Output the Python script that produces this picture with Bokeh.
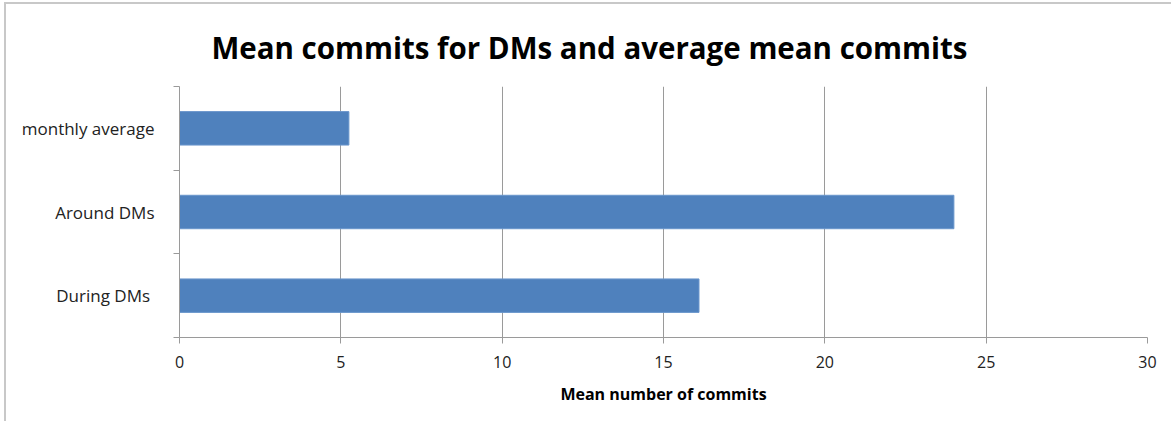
from bokeh.plotting import figure
from bokeh.models import Range1d, FixedTicker
from bokeh.embed import file_html
from bokeh.resources import INLINE

# Data (bottom to top)
categories = ["During  DMs", "Around DMs", "monthly average"]
values = [16.1, 24.0, 5.25]
x_ticks = [0, 5, 10, 15, 20, 25, 30]

title_text = "Mean commits  for DMs and average mean commits"
x_title = "Mean number of commits"

FONT = "Open Sans"
GRID = "#9a9a9a"
BAR = "#4f81bd"

n = len(categories)
centers = [i + 0.5 for i in range(n)]
bounds = [float(i) for i in range(n + 1)]

p = figure(width=1167, height=419, output_backend="svg", toolbar_location=None,
           x_range=Range1d(0, 30), y_range=Range1d(0, n),
           min_border_left=173, min_border_right=26, min_border_top=82, min_border_bottom=86)
p.styles = {"border-left": "2px solid #c8c8c8", "border-top": "2px solid #c8c8c8",
            "margin-left": "4px", "margin-top": "2px"}

p.hbar(y=centers, left=0, right=values, height=0.4, fill_color=BAR, line_color="#6a96cc", line_width=1)

p.title.text = title_text
p.title.text_font = FONT
p.title.text_font_size = "29.5px"
p.title.text_font_style = "bold"
p.title.text_color = "#000000"
p.title.align = "left"
p.title.offset = 32
p.title.standoff = 38

p.outline_line_color = None
p.background_fill_color = "white"
p.border_fill_color = "white"

# x axis
xa = p.xaxis[0]
xa.ticker = FixedTicker(ticks=x_ticks)
xa.axis_line_color = GRID
xa.major_tick_line_color = GRID
xa.major_tick_in = 0
xa.major_tick_out = 6
xa.minor_tick_line_color = None
xa.major_label_text_font = FONT
xa.major_label_text_font_size = "16px"
xa.major_label_text_color = "#222222"
xa.major_label_standoff = 12
xa.axis_label = x_title
xa.axis_label_text_font = FONT
xa.axis_label_text_font_size = "16px"
xa.axis_label_text_font_style = "bold"
xa.axis_label_text_color = "#000000"
xa.axis_label_standoff = 12

# y axis
ya = p.yaxis[0]
ya.ticker = FixedTicker(ticks=centers, minor_ticks=bounds)
ya.major_label_overrides = {c: lab for c, lab in zip(centers, categories)}
ya.axis_line_color = GRID
ya.major_tick_line_color = None
ya.major_tick_in = 0
ya.major_tick_out = 0
ya.minor_tick_line_color = GRID
ya.minor_tick_in = 0
ya.minor_tick_out = 6
ya.major_label_text_font = FONT
ya.major_label_text_font_size = "17px"
ya.major_label_text_color = "#222222"
ya.major_label_standoff = 19

p.xgrid.ticker = FixedTicker(ticks=x_ticks)
p.xgrid.grid_line_color = GRID
p.ygrid.grid_line_color = None

open("out.html", "w").write(file_html(p, INLINE))
